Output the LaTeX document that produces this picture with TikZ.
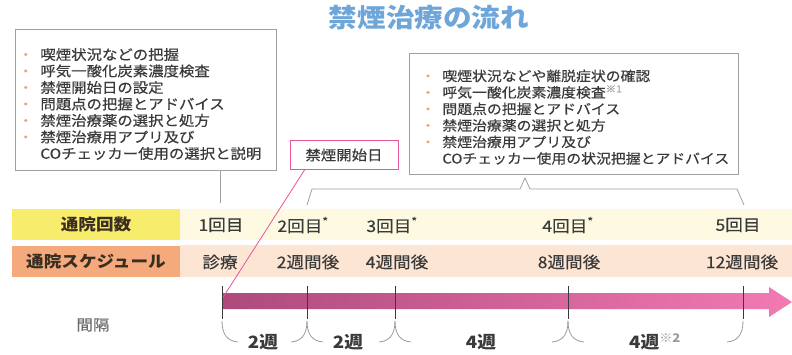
\documentclass[tikz,border=0pt]{standalone}
\usepackage{fontspec}
\setmainfont{Noto Sans CJK JP}[FakeStretch=1.1]
\newfontfamily\medium{Noto Sans CJK JP}[FakeStretch=1.1, FakeBold=0.4]
\usetikzlibrary{calc}
\usepackage{xcolor}
\definecolor{titleblue}{HTML}{6EA6D9}
\definecolor{boxgray}{HTML}{A0A0A0}
\definecolor{inkgray}{HTML}{3A3A3A}
\definecolor{notegray}{HTML}{9A9A9A}
\definecolor{dotc}{HTML}{F0A07A}
\definecolor{startpink}{HTML}{E5569C}
\definecolor{countY}{HTML}{F8EC6C}
\definecolor{countL}{HTML}{FEFAE2}
\definecolor{schedO}{HTML}{F4AA7C}
\definecolor{schedL}{HTML}{FDE5D3}
\definecolor{arrowL}{HTML}{AE4A7C}
\definecolor{arrowR}{HTML}{F27AB2}
\definecolor{headink}{HTML}{3A2E22}
\newcommand\bul{\leavevmode\llap{\textcolor{dotc}{・}\kern7pt}}
\newcommand\astk{\textsuperscript{*}}

\begin{document}
\begin{tikzpicture}[x=1pt,y=-1pt]
    \tikzstyle{infobox}=[draw=boxgray, line width=0.8pt, fill=white, anchor=north west, align=left, text=inkgray, font=\medium\fontsize{14}{16.5}\selectfont, inner ysep=0pt]
    \tikzstyle{startbox}=[draw=startpink, line width=1pt, minimum width=108, minimum height=29, text=inkgray, font=\medium\fontsize{14}{15}\selectfont]
    \tikzstyle{rowhead}=[minimum width=168, minimum height=31, inner sep=0pt, text=headink, font=\fontsize{16}{18}\selectfont\bfseries]
    \tikzstyle{rowtext}=[text=inkgray, font=\medium\fontsize{16}{18}\selectfont]
    \tikzstyle{boxline}=[draw=boxgray, line width=0.8pt]
    \tikzstyle{tick}=[draw=inkgray, line width=0.9pt]
    \tikzstyle{brace}=[draw=notegray, line width=0.8pt]
    \tikzstyle{gap}=[text=inkgray, font=\fontsize{17}{19}\selectfont\bfseries]

    \useasboundingbox (0,0) rectangle (792,354);

    \node[text=titleblue, font=\fontsize{26}{28}\selectfont\bfseries] (title) at (429,18) {禁煙治療の流れ};

%   what happens at the visits
    \node[infobox, minimum width=261, minimum height=141, inner xsep=25pt, text width=211pt] (first) at (15,29)
        {\rule{0pt}{20pt}\bul 喫煙状況などの把握\\ \bul 呼気一酸化炭素濃度検査\\ \bul 禁煙開始日の設定\\ \bul 問題点の把握とアドバイス\\
         \bul 禁煙治療薬の選択と処方\\ \bul 禁煙治療用アプリ及び\\ COチェッカー使用の選択と説明};
    \node[infobox, minimum width=329, minimum height=121, inner xsep=33pt, text width=263pt, font=\medium\fontsize{13.5}{16.5}\selectfont] (later) at (409,53)
        {\rule{0pt}{18pt}\bul 喫煙状況などや離脱症状の確認\\ \bul 呼気一酸化炭素濃度検査\textsuperscript{\textcolor{notegray}{※1}}\\ \bul 問題点の把握とアドバイス\\
         \bul 禁煙治療薬の選択と処方\\ \bul 禁煙治療用アプリ及び\\ COチェッカー使用の状況把握とアドバイス};
    \node[startbox] (startday) at (344,155) {禁煙開始日};

    \fill[countL] (180,209) rectangle (792,240);
    \fill[schedL] (180,245) rectangle (792,277);
    \node[rowhead, fill=countY] (rh1) at (96,224.5) {通院回数};
    \node[rowhead, fill=schedO] (rh2) at (96,261) {通院スケジュール};

    \coordinate (c1) at (220,203);
    \path[boxline] (first.south -| c1) edge (c1);
    \draw[boxline] (307,205) -- (312,189) -- (520,189) -- (525,178) -- (530,189) -- (737,189) -- (744,205);

    \shade[left color=arrowL, right color=arrowR] (222,293) -- (769,293) -- (769,287) -- (792,302) -- (769,317) -- (769,309) -- (222,309) -- cycle;
    \coordinate (a0) at (222,299);
    \draw[startpink, line width=0.8pt] ($(startday.south west)+(15,0)$) -- (a0);

	\foreach \x/\cx/\cnt/\sx/\when [count=\i] in {222/221/1回目/220/診療, 307/303/2回目\astk/308/2週間後, 395/392/3回目\astk/397/4週間後, 568/568/4回目\astk/569/8週間後, 743/738/5回目/742/12週間後}{
		\node[rowtext] (v-\i) at (\cx,225) {\cnt};
		\node[rowtext] (s-\i) at (\sx,262) {\when};
		\coordinate (tk-\i) at (\x,286);
		\draw[tick] (tk-\i) -- ++(0,33);
	}
	\foreach \x in {307,395,568,743}
		\draw[brace] (\x,321) .. controls (\x,334) and (\x-5,341) .. (\x-16,342);
	\foreach \x in {222,307,395,568}
		\draw[brace] (\x,321) .. controls (\x,334) and (\x+5,341) .. (\x+16,342);

    \node[text=inkgray!75, font=\medium\fontsize{15}{17}\selectfont] (kankaku) at (93,325) {間隔};
    \node[gap] (w-1) at (263,342) {2週};
    \node[gap] (w-2) at (348,342) {2週};
    \node[gap] (w-3) at (481,342) {4週};
    \node[gap] (w-4) at (655,342) {4週\textsuperscript{\textcolor{notegray}{※2}}};
\end{tikzpicture}
\end{document}
